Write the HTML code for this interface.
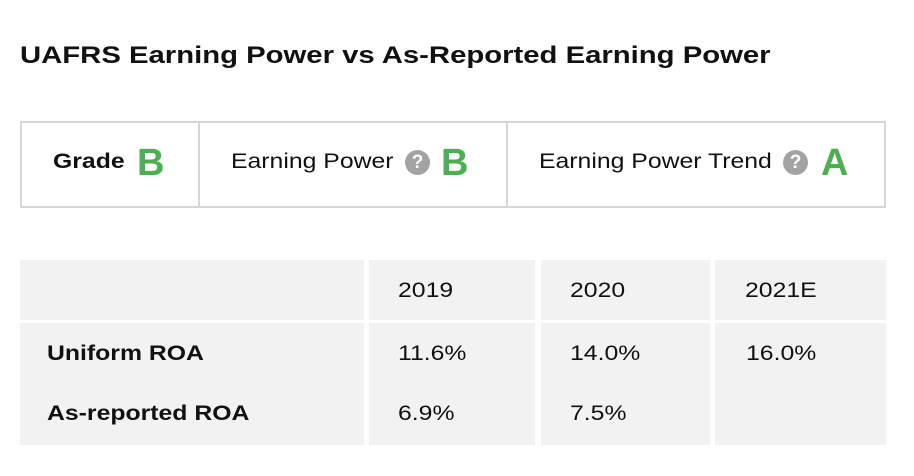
<!DOCTYPE html>
<html><head><meta charset="utf-8"><style>
body{margin:0;width:914px;height:476px;background:#fff;font-family:"Liberation Sans",Arial,sans-serif;color:#111;position:relative;overflow:hidden}
.a{position:absolute;white-space:nowrap}
.g{color:#4cb050;font-weight:bold;font-size:38px;line-height:38px}
.q{display:inline-block;width:25px;height:25px;border-radius:50%;background:#a3a3a3;color:#fff;font-weight:bold;font-size:19px;line-height:25px;text-align:center}
.cell{position:absolute;background:#f2f2f2}
.t{font-size:21px;line-height:24px;transform:scaleX(1.18);transform-origin:0 0}
</style></head><body>
<div class="a" style="left:20px;top:42px;font-size:24px;font-weight:bold;transform:scaleX(1.22);transform-origin:0 0">UAFRS Earning Power vs As-Reported Earning Power</div>
<div style="position:absolute;left:20px;top:121px;width:862px;height:83px;border:2px solid #d6d6d6;"></div>
<div style="position:absolute;left:198px;top:121px;width:2px;height:87px;background:#d6d6d6"></div>
<div style="position:absolute;left:506px;top:121px;width:2px;height:87px;background:#d6d6d6"></div>
<div class="a t" style="left:53px;top:150px;font-weight:bold">Grade</div>
<div class="a g" style="left:137px;top:144px">B</div>
<div class="a t" style="left:231px;top:150px">Earning Power</div>
<div class="a q" style="left:405px;top:150px">?</div>
<div class="a g" style="left:441px;top:144px">B</div>
<div class="a t" style="left:539px;top:150px">Earning Power Trend</div>
<div class="a q" style="left:783px;top:150px">?</div>
<div class="a g" style="left:821px;top:144px">A</div>

<div class="cell" style="left:20px;top:260px;width:344px;height:60px"></div>
<div class="cell" style="left:369px;top:260px;width:166px;height:60px"></div>
<div class="cell" style="left:541px;top:260px;width:169px;height:60px"></div>
<div class="cell" style="left:715px;top:260px;width:171px;height:60px"></div>
<div class="cell" style="left:20px;top:323px;width:344px;height:122px"></div>
<div class="cell" style="left:369px;top:323px;width:166px;height:122px"></div>
<div class="cell" style="left:541px;top:323px;width:169px;height:122px"></div>
<div class="cell" style="left:715px;top:323px;width:171px;height:122px"></div>

<div class="a t" style="left:398px;top:279px">2019</div>
<div class="a t" style="left:570px;top:279px">2020</div>
<div class="a t" style="left:745px;top:279px">2021E</div>
<div class="a t" style="left:47px;top:342px;font-weight:bold">Uniform ROA</div>
<div class="a t" style="left:398px;top:342px">11.6%</div>
<div class="a t" style="left:570px;top:342px">14.0%</div>
<div class="a t" style="left:746px;top:342px">16.0%</div>
<div class="a t" style="left:47px;top:402px;font-weight:bold">As-reported ROA</div>
<div class="a t" style="left:398px;top:402px">6.9%</div>
<div class="a t" style="left:570px;top:402px">7.5%</div>
</body></html>
